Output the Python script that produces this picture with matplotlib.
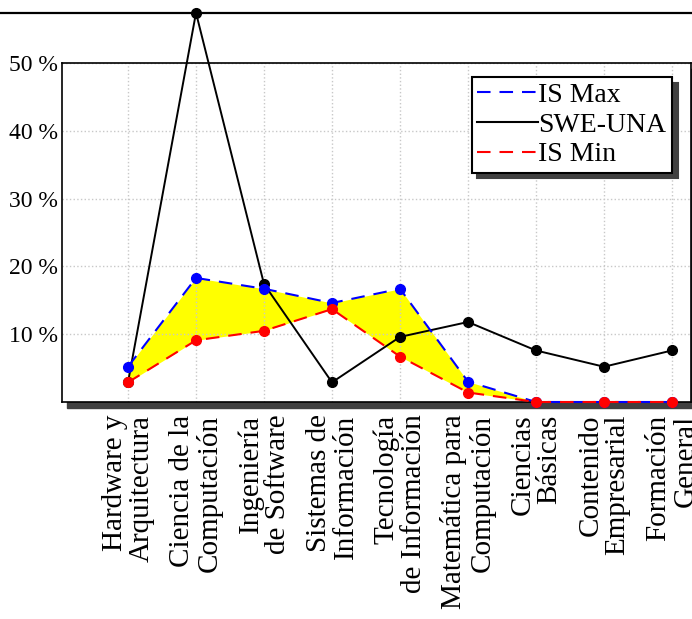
#!/usr/bin/env python3
# -*- coding: utf-8 -*-

import matplotlib
matplotlib.use("Agg")
import matplotlib.pyplot as plt
import matplotlib.transforms as mtransforms
from matplotlib.patches import Rectangle
from matplotlib.lines import Line2D

# data (percent)
areas = ["Hardware y\nArquitectura", "Ciencia de la\nComputación", "Ingeniería\nde Software",
         "Sistemas de\nInformación", "Tecnología\nde Información", "Matemática para\nComputación",
         "Ciencias\nBásicas", "Contenido\nEmpresarial", "Formación\nGeneral"]
pos = [1, 2, 3, 4, 5, 6, 7, 8, 9]
is_max = [5.2, 18.3, 16.7, 14.6, 16.7, 3.0, 0, 0, 0]
swe_una = [2.9, 57.4, 17.4, 2.9, 9.6, 11.8, 7.6, 5.2, 7.6]
is_min = [2.9, 9.1, 10.5, 13.7, 6.7, 1.4, 0, 0, 0]
yticks = [10, 20, 30, 40, 50]
ytick_labels = ["10 %", "20 %", "30 %", "40 %", "50 %"]

plt.rcParams['font.family'] = ['Liberation Serif', 'DejaVu Serif']
plt.rcParams['font.size'] = 17

fig = plt.figure(figsize=(6.92, 6.19), dpi=100)
W, H = 692.0, 619.0
ax = fig.add_axes([62 / W, 1 - 402 / H, 629 / W, 339 / H])

# shadow under the axis box
fig.patches.append(Rectangle((67 / W, 1 - 408 / H), 629 / W, 339 / H,
                             transform=fig.transFigure, color='#404040', zorder=-1))

ax.fill_between(pos, is_min, is_max, color='yellow', linewidth=0, zorder=1)

dash = (0, (6.5, 4.3))
ax.plot(pos, swe_una, '-', color='black', linewidth=1.4, marker='o',
        markersize=7, clip_on=False, zorder=3, label="SWE-UNA")
ax.plot(pos, is_max, color='blue', linestyle=dash, linewidth=1.5, marker='o',
        markersize=7, clip_on=False, zorder=4, label="IS Max")
ax.plot(pos, is_min, color='red', linestyle=dash, linewidth=1.5, marker='o',
        markersize=7, clip_on=False, zorder=5, label="IS Min")

# horizontal rule at the top of the figure
trans = mtransforms.blended_transform_factory(fig.transFigure, ax.transData)
fig.add_artist(Line2D([0, 1], [57.4, 57.4], transform=trans, color='black', linewidth=1.6))

ax.set_xlim(1 - 66 / 68, 1 + 563 / 68)
ax.set_ylim(0, 50)
ax.set_xticks(pos)
ax.set_xticklabels(areas, rotation=90, va='top', ha='center', multialignment='right',
                   fontsize=21, linespacing=1.05)
ax.set_yticks(yticks)
ax.set_yticklabels(ytick_labels)
ax.tick_params(axis='both', length=0)
ax.tick_params(axis='x', pad=9)
ax.tick_params(axis='y', pad=3)
ax.grid(True, color='#c8c8c8', linestyle=':', linewidth=1)
for s in ax.spines.values():
    s.set_linewidth(1.2)

# legend order as in the original: IS Max, SWE-UNA, IS Min (lines only)
leg = ax.legend(handles=[Line2D([], [], color='blue', linestyle=dash, linewidth=1.5),
                         Line2D([], [], color='black', linewidth=1.5),
                         Line2D([], [], color='red', linestyle=dash, linewidth=1.5)],
                labels=["IS Max", "SWE-UNA", "IS Min"], fontsize=20,
                loc='upper right', bbox_to_anchor=(610 / 629, 325 / 339), borderaxespad=0,
                fancybox=False, handlelength=2.2, handletextpad=0.0, labelspacing=0.15,
                borderpad=0.2, framealpha=1,
                shadow={'ox': 4, 'oy': -4, 'facecolor': '#404040',
                        'edgecolor': '#404040', 'alpha': 1})
leg.get_frame().set_edgecolor('black')
leg.get_frame().set_linewidth(1.5)
leg.set_zorder(10)

plt.savefig("out.png", dpi=100)
